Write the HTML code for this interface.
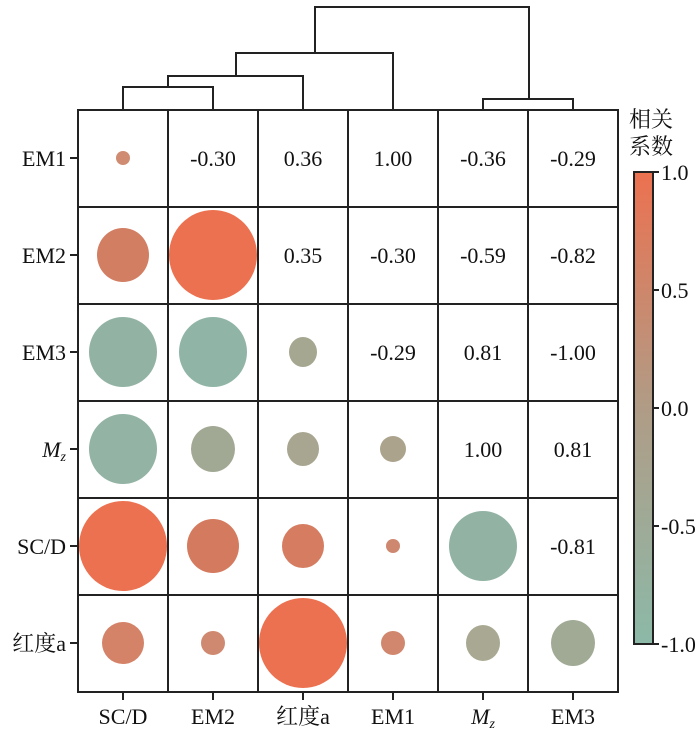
<!DOCTYPE html>
<html><head><meta charset="utf-8"><style>
html,body{margin:0;padding:0;background:#fff;}
svg text{font-family:"Liberation Serif","Noto Serif CJK SC",serif;font-size:22px;fill:#111;}
</style></head><body>
<svg width="700" height="732" viewBox="0 0 700 732" xmlns="http://www.w3.org/2000/svg">
<defs>
<linearGradient id="cb" x1="0" y1="0" x2="0" y2="1">
<stop offset="0" stop-color="#EC7150"/>
<stop offset="0.5" stop-color="#B09C86"/>
<stop offset="1" stop-color="#8CB9A8"/>
</linearGradient>
</defs>
<g stroke="#222" stroke-width="2" fill="none">
<path d="M123,110 V87 H213 V110"/>
<path d="M168,87 V76 H303 V110"/>
<path d="M236,76 V53 H393 V110"/>
<path d="M483,110 V99 H573 V110"/>
<path d="M315,53 V7 H529 V99"/>
</g>
<g>
<ellipse cx="123" cy="158" rx="7" ry="7" fill="#CF8C73"/>
<ellipse cx="123" cy="255" rx="26" ry="27" fill="#D27E63"/>
<ellipse cx="213" cy="255" rx="44" ry="45" fill="#EC7150"/>
<ellipse cx="123" cy="352" rx="34" ry="35" fill="#92B3A4"/>
<ellipse cx="213" cy="352" rx="34" ry="35" fill="#90B5A6"/>
<ellipse cx="303" cy="352" rx="14" ry="15" fill="#A6A791"/>
<ellipse cx="123" cy="449" rx="34" ry="35" fill="#93B3A4"/>
<ellipse cx="213" cy="449" rx="22" ry="23" fill="#A1A893"/>
<ellipse cx="303" cy="449" rx="16" ry="17" fill="#A8A690"/>
<ellipse cx="393" cy="449" rx="13" ry="13" fill="#ACA38D"/>
<ellipse cx="123" cy="546" rx="44" ry="45" fill="#EC7150"/>
<ellipse cx="213" cy="546" rx="26" ry="27" fill="#D47B5F"/>
<ellipse cx="303" cy="546" rx="21" ry="22" fill="#D57C61"/>
<ellipse cx="393" cy="546" rx="7" ry="7" fill="#CF8870"/>
<ellipse cx="483" cy="546" rx="34" ry="35" fill="#92B3A4"/>
<ellipse cx="123" cy="643" rx="21" ry="21" fill="#D48268"/>
<ellipse cx="213" cy="643" rx="12" ry="12" fill="#CF8970"/>
<ellipse cx="303" cy="643" rx="44" ry="45" fill="#EC7150"/>
<ellipse cx="393" cy="643" rx="12" ry="12" fill="#D0876E"/>
<ellipse cx="483" cy="643" rx="17" ry="18" fill="#A9A993"/>
<ellipse cx="573" cy="643" rx="22" ry="23" fill="#A0AA95"/>
</g>
<g stroke="#222" stroke-width="2" fill="none">
<rect x="78" y="110" width="540" height="582"/>
<path d="M168,110V692M258,110V692M348,110V692M438,110V692M528,110V692"/>
<path d="M78,207H618M78,304H618M78,401H618M78,498H618M78,595H618"/>
<path d="M70,158H78M70,255H78M70,352H78M70,449H78M70,546H78M70,643H78"/>
<path d="M123,692V700M213,692V700M303,692V700M393,692V700M483,692V700M573,692V700"/>
</g>
<g text-anchor="middle">
<text x="213" y="166">-0.30</text><text x="303" y="166">0.36</text><text x="393" y="166">1.00</text><text x="483" y="166">-0.36</text><text x="573" y="166">-0.29</text>
<text x="303" y="263">0.35</text><text x="393" y="263">-0.30</text><text x="483" y="263">-0.59</text><text x="573" y="263">-0.82</text>
<text x="393" y="360">-0.29</text><text x="483" y="360">0.81</text><text x="573" y="360">-1.00</text>
<text x="483" y="457">1.00</text><text x="573" y="457">0.81</text>
<text x="573" y="554">-0.81</text>
</g>
<g text-anchor="end">
<text x="66" y="166">EM1</text>
<text x="66" y="263">EM2</text>
<text x="66" y="360">EM3</text>
<text x="66" y="457"><tspan font-style="italic">M</tspan><tspan font-style="italic" font-size="14" dy="4">z</tspan></text>
<text x="66" y="554">SC/D</text>
<text x="66" y="651">红度a</text>
</g>
<g text-anchor="middle">
<text x="123" y="724">SC/D</text>
<text x="213" y="724">EM2</text>
<text x="303" y="724">红度a</text>
<text x="393" y="724">EM1</text>
<text x="483" y="724"><tspan font-style="italic">M</tspan><tspan font-style="italic" font-size="14" dy="4">z</tspan></text>
<text x="573" y="724">EM3</text>
</g>
<text x="629" y="127">相关</text>
<text x="629" y="154">系数</text>
<rect x="634" y="172" width="19" height="472" fill="url(#cb)" stroke="#222" stroke-width="2"/>
<g stroke="#222" stroke-width="2">
<path d="M653,172H659M653,290H659M653,408H659M653,526H659M653,644H659"/>
</g>
<g>
<text x="661" y="180">1.0</text>
<text x="661" y="298">0.5</text>
<text x="661" y="416">0.0</text>
<text x="661" y="534">-0.5</text>
<text x="661" y="652">-1.0</text>
</g>
</svg>
</body></html>
